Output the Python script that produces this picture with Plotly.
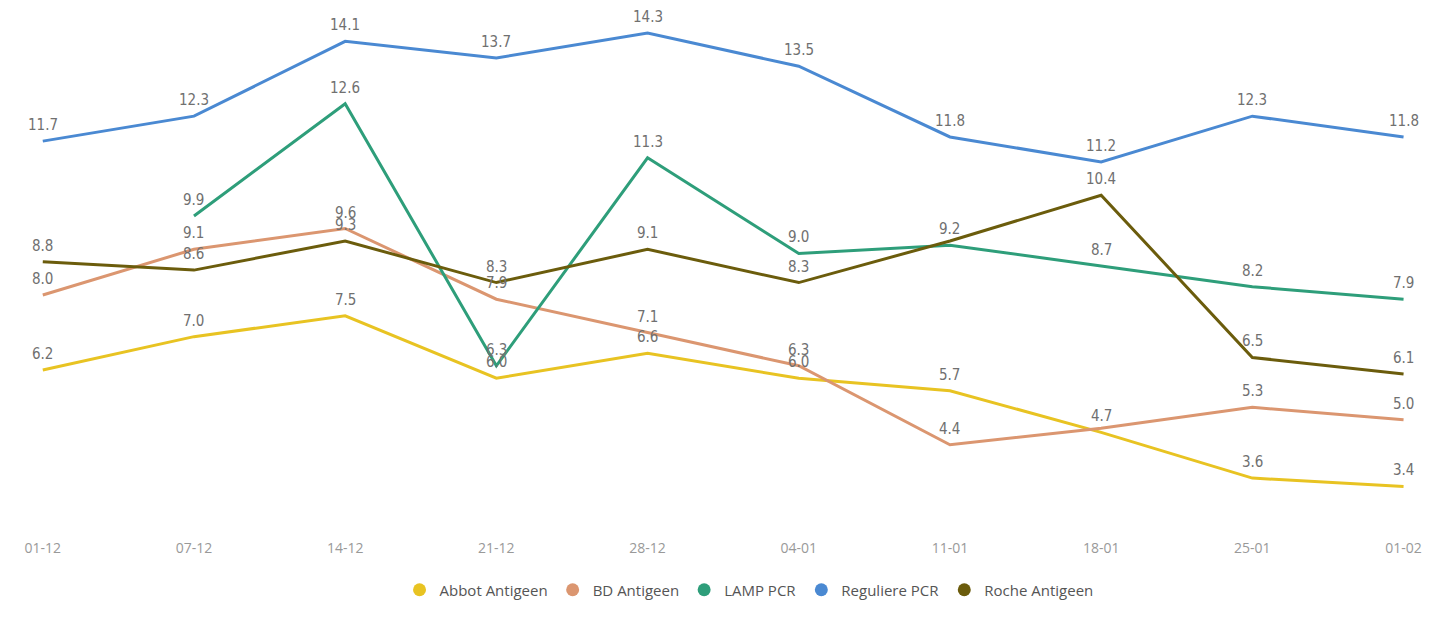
import plotly.graph_objects as go

dates = ["01-12", "07-12", "14-12", "21-12", "28-12", "04-01", "11-01", "18-01", "25-01", "01-02"]

abbot = [6.2, 7.0, 7.5, 6.0, 6.6, 6.0, 5.7, 4.7, 3.6, 3.4]
bd = [8.0, 9.1, 9.6, 7.9, 7.1, 6.3, 4.4, 4.8, 5.3, 5.0]
lamp = [None, 9.9, 12.6, 6.3, 11.3, 9.0, 9.2, 8.7, 8.2, 7.9]
regulier = [11.7, 12.3, 14.1, 13.7, 14.3, 13.5, 11.8, 11.2, 12.3, 11.8]
roche = [8.8, 8.6, 9.3, 8.3, 9.1, 8.3, 9.3, 10.4, 6.5, 6.1]

# labels Power BI hid because they overlapped
hidden = {
    "BD Antigeen": [7],
    "Roche Antigeen": [6],
}

series = [
    ("Abbot Antigeen", abbot, "#E8C322"),
    ("BD Antigeen", bd, "#DB9670"),
    ("LAMP PCR", lamp, "#2E9E7A"),
    ("Reguliere PCR", regulier, "#4A89D2"),
    ("Roche Antigeen", roche, "#6B5C0C"),
]

label_font = "Liberation Sans Narrow, DejaVu Sans Condensed, sans-serif"

fig = go.Figure()
for name, vals, color in series:
    fig.add_trace(go.Scatter(
        x=dates, y=vals,
        mode="lines",
        name=name,
        line=dict(color=color, width=3),
        showlegend=False,
        connectgaps=False))
    # data labels a few pixels above each point
    for i, v in enumerate(vals):
        if v is None or i in hidden.get(name, []):
            continue
        fig.add_annotation(
            x=dates[i], y=v,
            text=f"{v:.1f}",
            showarrow=False,
            yanchor="bottom",
            yshift=5,
            font=dict(family=label_font, size=15, color="#707070"))

# round legend markers
for name, vals, color in series:
    fig.add_trace(go.Scatter(
        x=[None], y=[None],
        mode="markers",
        name=name,
        marker=dict(color=color, size=13, symbol="circle")))

fig.update_layout(
    width=1453, height=627,
    template="plotly_white",
    paper_bgcolor="white",
    plot_bgcolor="white",
    margin=dict(l=0, r=0, t=10, b=97),
    showlegend=True,
    legend=dict(
        orientation="h",
        x=0.51, xanchor="center",
        y=-0.1, yanchor="middle",
        font=dict(family="Open Sans, sans-serif", size=15, color="#555555"),
        itemwidth=30,
        traceorder="normal"),
    xaxis=dict(
        type="category",
        range=[-0.23, 9.38],
        showgrid=False, zeroline=False, showline=False,
        ticks="",
        tickfont=dict(family="Open Sans, sans-serif", size=14, color="#999999")),
    yaxis=dict(
        range=[2.16, 14.66],
        visible=False,
        showgrid=False, zeroline=False))

fig.write_html("out.html")
